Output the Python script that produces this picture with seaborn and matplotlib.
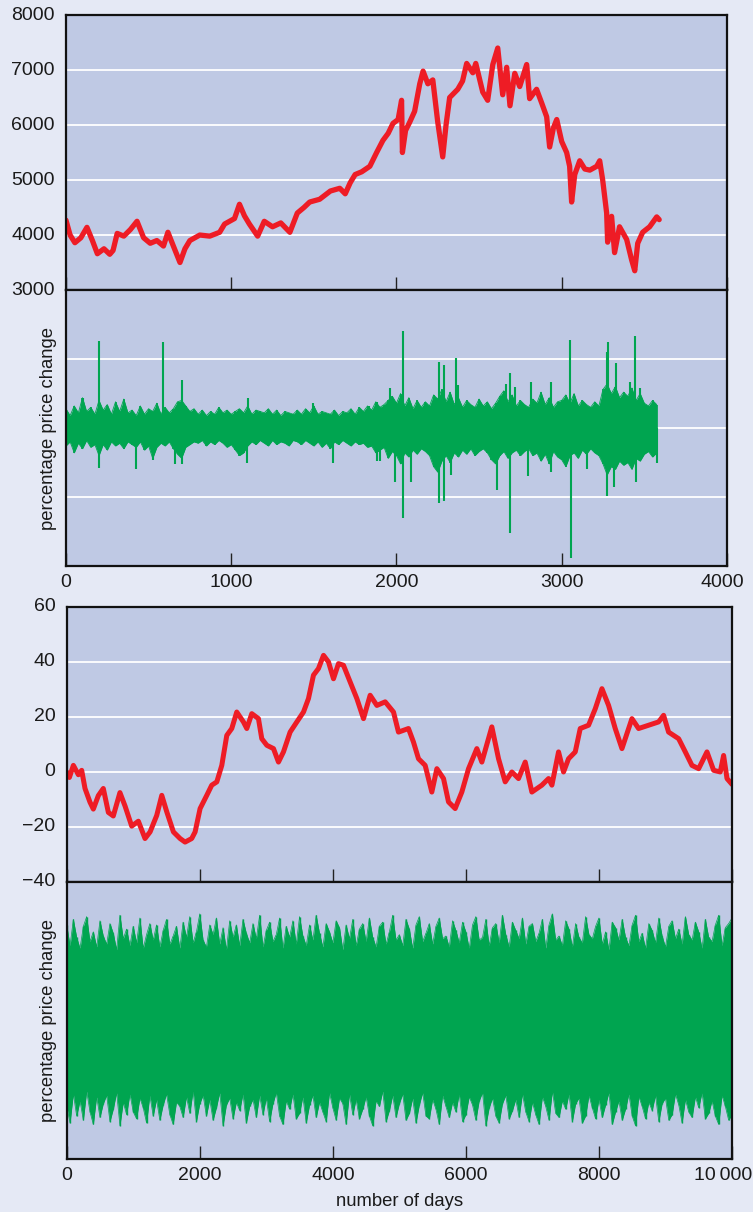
import numpy as np
import pandas as pd
import matplotlib
matplotlib.use("Agg")
import matplotlib.pyplot as plt
import seaborn as sns
from matplotlib.transforms import ScaledTranslation

# ---------------- data ----------------
# Panel 1: real price index (about 3600 trading days)
top_days = [0, 25, 54, 90, 127, 160, 190, 230, 265, 285, 310, 350, 390, 430, 470, 510, 550, 590,
            617, 650, 690, 720, 750, 810, 870, 930, 960, 1020, 1050, 1080, 1110, 1160, 1200, 1250,
            1300, 1355, 1400, 1440, 1475, 1535, 1600, 1657, 1690, 1720, 1750, 1790, 1839, 1880,
            1918, 1950, 1979, 2010, 2031, 2036, 2055, 2080, 2110, 2141, 2161, 2190, 2220, 2250,
            2280, 2300, 2322, 2371, 2400, 2425, 2462, 2480, 2522, 2552, 2583, 2613, 2643, 2667,
            2687, 2716, 2746, 2788, 2806, 2848, 2879, 2909, 2927, 2950, 2970, 3000, 3030, 3048,
            3060, 3079, 3109, 3140, 3170, 3212, 3230, 3248, 3272, 3278, 3302, 3320, 3350, 3393,
            3423, 3442, 3460, 3490, 3532, 3575, 3590]
top_price = [4270, 4000, 3860, 3950, 4140, 3900, 3660, 3750, 3650, 3720, 4030, 3980, 4100, 4250,
             3950, 3850, 3900, 3800, 4050, 3800, 3500, 3750, 3900, 4000, 3980, 4050, 4200, 4300,
             4560, 4350, 4200, 3980, 4250, 4150, 4220, 4050, 4400, 4500, 4600, 4650, 4800, 4850,
             4750, 4950, 5100, 5150, 5250, 5500, 5720, 5850, 6030, 6100, 6450, 5500, 5900, 6050,
             6250, 6750, 6980, 6750, 6820, 6050, 5420, 6000, 6500, 6650, 6800, 7120, 6950, 7120,
             6600, 6450, 7100, 7400, 6550, 7050, 6350, 6940, 6700, 7100, 6480, 6650, 6400, 6150,
             5600, 5950, 6100, 5700, 5500, 5250, 4600, 5100, 5350, 5200, 5180, 5250, 5350, 5000,
             4400, 3870, 4340, 3680, 4150, 3920, 3550, 3350, 3850, 4050, 4150, 4330, 4280]

# Panel 2: daily percentage change of that index - usual daily range (every 25 days) ...
top_band_days = list(range(0, 3600, 25))
top_band_hi = [1.4, 0.9, 1.6, 1.1, 2.2, 1.2, 1.5, 1.0,
               2.0, 1.3, 1.7, 1.0, 1.9, 1.2, 2.1, 1.1,
               1.3, 0.9, 1.6, 1.0, 1.4, 1.2, 1.8, 1.0,
               1.5, 1.1, 1.4, 1.9, 2.0, 1.6, 1.2, 1.4,
               1.0, 1.3, 0.9, 1.2, 1.0, 1.5, 1.1, 1.3,
               1.0, 1.2, 1.4, 1.1, 1.6, 1.0, 1.3, 1.2,
               1.1, 1.4, 1.0, 1.3, 0.9, 1.2, 1.1, 1.0,
               1.3, 1.0, 1.4, 1.1, 1.6, 1.0, 1.2, 1.1,
               1.0, 1.3, 0.9, 1.2, 1.1, 1.4, 1.0, 1.5,
               1.2, 1.6, 1.3, 1.9, 1.5, 1.7, 2.0, 2.3,
               1.8, 2.5, 1.6, 2.2, 1.4, 2.0, 1.5, 1.9,
               1.6, 2.4, 2.1, 2.8, 1.9, 2.6, 1.7, 2.2,
               1.5, 2.0, 1.7, 1.5, 2.1, 1.6, 1.9, 1.4,
               1.8, 2.3, 2.7, 1.9, 2.4, 1.6, 2.0, 1.7,
               1.5, 2.1, 1.8, 2.6, 1.7, 2.2, 1.5, 1.9,
               2.0, 2.4, 1.8, 2.5, 1.6, 2.0, 1.7, 1.5,
               1.9, 1.6, 2.8, 3.2, 2.5, 3.0, 2.2, 2.6,
               2.3, 2.9, 2.0, 2.5, 1.8, 1.6, 2.0, 1.7]
top_band_lo = [-1.3, -1.0, -1.8, -1.1, -1.5, -0.9, -1.4, -1.2,
               -2.0, -1.2, -1.6, -1.0, -1.3, -1.1, -1.5, -1.0,
               -1.2, -1.4, -1.0, -1.6, -1.3, -2.2, -1.4, -1.1,
               -1.3, -1.0, -1.5, -1.9, -2.2, -1.4, -1.2, -1.0,
               -1.1, -0.9, -1.3, -1.0, -1.2, -0.9, -1.1, -1.4,
               -1.2, -1.6, -2.0, -1.8, -1.3, -1.0, -1.2, -0.9,
               -1.1, -1.3, -0.9, -1.2, -1.0, -1.1, -1.3, -0.9,
               -1.0, -1.2, -0.9, -1.1, -1.3, -1.0, -1.4, -1.1,
               -1.5, -1.0, -1.2, -0.9, -1.1, -1.3, -1.0, -1.2,
               -1.1, -1.4, -1.3, -1.8, -1.6, -1.4, -2.2, -1.7,
               -2.0, -2.6, -1.8, -2.1, -1.6, -1.9, -1.5, -1.7,
               -2.0, -2.8, -3.2, -2.4, -2.0, -2.5, -1.8, -2.1,
               -1.6, -1.9, -1.5, -2.0, -1.7, -1.5, -1.8, -2.3,
               -2.6, -2.0, -1.7, -2.2, -1.8, -1.6, -2.0, -1.7,
               -1.5, -2.0, -1.8, -2.4, -1.9, -2.6, -1.7, -2.1,
               -2.3, -2.8, -2.0, -1.8, -2.2, -1.6, -1.9, -1.5,
               -1.8, -2.0, -2.6, -3.4, -2.8, -3.0, -2.4, -2.7,
               -2.5, -3.0, -2.2, -2.4, -1.9, -1.7, -2.1, -1.8]
# ... and the single large daily moves (day, % change)
top_spike_days = [101, 198, 198, 423, 526, 588, 659, 703, 703, 1095, 1102, 1496, 1614, 1835,
                  1885, 1885, 1898, 1961, 1993, 2040, 2040, 2090, 2258, 2258, 2286, 2286, 2329,
                  2359, 2373, 2611, 2661, 2686, 2686, 2720, 2797, 2815, 2938, 2938, 3050, 3054,
                  3155, 3274, 3274, 3282, 3316, 3326, 3411, 3444, 3452, 3472, 3579]
top_spike_vals = [2.2, 6.3, -2.9, -3.0, -2.3, 6.2, -2.6, 3.5, -2.6, -2.5, 2.2, 1.8, -2.5, 1.6,
                  1.9, -2.4, -2.4, 2.9, -3.9, 7.0, -6.5, -3.9, 4.8, -5.4, 4.6, -5.3, -3.4,
                  5.1, 3.1, -4.5, 3.2, 4.0, -7.6, 3.0, -3.5, 3.3, 3.3, -3.2, 6.4, -9.4,
                  -3.0, 5.5, -4.9, 6.2, -4.3, 4.7, 3.3, 6.7, -3.9, 2.9, -2.5]

# Panel 3: simulated random-walk price (10 000 days)
sim_days = [0, 40, 100, 175, 225, 275, 350, 400, 475, 550, 626, 700, 800, 877, 977, 1077, 1177,
            1253, 1353, 1429, 1504, 1604, 1704, 1779, 1879, 1930, 2005, 2105, 2180, 2256, 2331,
            2406, 2481, 2556, 2656, 2707, 2782, 2882, 2932, 3008, 3108, 3183, 3258, 3358, 3459,
            3559, 3634, 3709, 3784, 3860, 3935, 4010, 4085, 4160, 4261, 4361, 4461, 4561, 4662,
            4787, 4912, 4987, 5137, 5212, 5288, 5388, 5488, 5564, 5664, 5739, 5839, 5939, 6040,
            6165, 6240, 6390, 6491, 6591, 6691, 6791, 6892, 6992, 7142, 7243, 7293, 7393, 7468,
            7543, 7644, 7719, 7844, 7945, 8045, 8145, 8245, 8346, 8496, 8596, 8747, 8897, 8972,
            9047, 9198, 9298, 9398, 9499, 9624, 9724, 9824, 9874, 9925, 10000]
sim_price = [0, -2, 2.4, -1, 0.6, -6, -11, -13.5, -8.6, -6, -14.7, -16, -7.5, -12.4, -19.7, -17.9,
             -24.2, -21.8, -15.8, -8.5, -14.5, -21.8, -24.2, -25.5, -24.2, -21.8, -13.3, -8.5,
             -4.8, -3.6, 2.4, 13.3, 15.8, 21.8, 18.2, 15.8, 21.2, 19.4, 12.1, 9.7, 8.5, 3.6, 7.3,
             14.5, 18.2, 21.8, 26.7, 35.2, 37.6, 42.4, 40, 33.9, 39.4, 38.8, 32.7, 26.7, 19.4,
             27.9, 24.2, 25.5, 21.8, 14.5, 15.8, 10.9, 4.8, 2.4, -7.3, 1.2, -2.4, -10.9, -13.3,
             -7.3, 1.2, 8.5, 3.6, 16.4, 4.8, -3.6, 0, -2.4, 3.6, -7.3, -4.8, -2.4, -4.8, 7.3, 0,
             4.8, 7.3, 15.8, 17, 23, 30.3, 24.2, 15.8, 8.5, 19.4, 15.8, 17, 18.2, 20.6, 14.5,
             12.1, 7.3, 2.4, 1.2, 7.3, 0.6, 0, 6, -2.4, -4.5]

# Panel 4: daily percentage change of the simulated walk, daily range every 50 days
sim_band_days = list(range(0, 10001, 50))
sim_band_hi = [6.9, 5.4, 7.3, 6.0, 5.2, 6.8, 7.5, 5.7, 6.4, 5.3,
               7.2, 6.1, 5.5, 7.0, 6.3, 5.1, 7.6, 5.9, 6.6, 5.4,
               6.8, 5.6, 7.4, 5.2, 6.2, 7.0, 5.8, 6.9, 5.3, 6.5,
               7.3, 5.5, 6.1, 6.8, 5.2, 7.1, 6.0, 7.5, 5.6, 6.4,
               7.7, 5.8, 5.3, 6.9, 6.2, 7.4, 5.5, 6.7, 5.1, 7.2,
               6.0, 6.9, 5.4, 7.3, 6.3, 5.6, 7.0, 5.9, 7.6, 5.3,
               6.5, 7.1, 5.7, 6.2, 7.4, 5.2, 6.8, 6.0, 7.2, 5.5,
               7.5, 6.1, 5.4, 6.9, 5.8, 7.6, 6.3, 5.3, 7.0, 6.4,
               5.6, 7.2, 6.7, 5.1, 6.9, 5.9, 7.3, 5.4, 6.6, 7.0,
               5.7, 7.4, 6.0, 5.3, 6.8, 7.1, 5.5, 6.4, 7.6, 5.8,
               6.2, 5.4, 7.3, 6.6, 5.2, 6.9, 7.5, 5.7, 6.3, 7.0,
               5.5, 6.8, 7.4, 5.9, 6.1, 5.3, 7.2, 6.5, 5.6, 7.1,
               6.4, 5.2, 6.9, 7.5, 5.8, 6.0, 7.3, 5.4, 6.7, 7.0,
               5.6, 7.6, 6.2, 5.3, 7.1, 6.5, 5.9, 7.4, 5.5, 6.8,
               7.0, 5.7, 6.3, 7.3, 5.2, 6.9, 7.7, 5.8, 6.1, 5.4,
               7.2, 6.6, 5.3, 7.0, 6.0, 5.6, 7.5, 6.2, 5.9, 6.8,
               7.4, 5.5, 6.4, 5.1, 7.1, 6.7, 5.8, 7.3, 6.0, 5.4,
               6.9, 7.6, 5.7, 6.3, 5.2, 7.0, 6.5, 5.6, 7.4, 6.1,
               5.3, 6.8, 7.2, 5.9, 6.6, 5.5, 7.5, 6.2, 5.8, 7.1,
               6.4, 5.2, 7.3, 6.0, 5.7, 6.9, 7.6, 5.4, 6.7, 7.0,
               7.4]
sim_band_lo = [-6.2, -7.4, -5.3, -6.9, -5.8, -7.2, -5.1, -6.6, -7.5, -5.5,
               -7.0, -6.0, -5.4, -7.3, -6.4, -5.2, -7.6, -5.9, -6.8, -5.3,
               -6.6, -7.1, -5.6, -6.3, -7.4, -5.4, -6.9, -5.7, -7.2, -6.1,
               -5.3, -6.8, -7.5, -5.9, -6.2, -7.0, -5.5, -6.7, -5.1, -7.3,
               -6.0, -5.4, -6.9, -5.7, -7.2, -6.3, -5.2, -7.6, -6.1, -5.6,
               -7.1, -5.9, -6.5, -5.3, -7.4, -6.2, -5.7, -7.0, -5.4, -6.8,
               -5.6, -7.3, -6.0, -5.2, -6.9, -7.5, -5.8, -6.4, -5.3, -7.1,
               -6.7, -5.5, -7.4, -6.1, -5.4, -7.0, -5.9, -6.6, -7.3, -5.2,
               -6.3, -7.2, -5.6, -6.0, -7.5, -5.3, -6.8, -5.7, -7.1, -6.4,
               -5.5, -6.9, -7.6, -5.8, -6.2, -5.1, -7.3, -6.5, -5.4, -7.0,
               -6.0, -5.3, -7.2, -6.7, -5.6, -7.4, -6.1, -5.2, -6.9, -7.1,
               -5.7, -6.4, -7.5, -5.4, -6.2, -7.0, -5.9, -6.6, -5.3, -7.3,
               -6.8, -5.5, -6.1, -7.2, -5.8, -5.2, -7.6, -6.3, -5.6, -6.9,
               -7.4, -6.0, -5.4, -7.1, -6.5, -5.7, -7.0, -5.3, -6.6, -7.3,
               -5.9, -6.8, -7.5, -5.5, -6.2, -7.2, -5.1, -6.7, -7.0, -5.8,
               -6.4, -5.3, -7.3, -6.0, -5.6, -7.4, -6.9, -5.4, -6.3, -7.1,
               -5.7, -7.0, -6.1, -5.2, -7.5, -6.6, -5.8, -7.2, -6.4, -5.3,
               -6.9, -7.6, -5.5, -6.2, -7.1, -5.9, -6.5, -5.4, -7.3, -6.0,
               -5.6, -7.2, -6.8, -5.3, -6.1, -7.4, -5.7, -6.6, -7.0, -5.5,
               -6.3, -5.2, -7.1, -6.7, -5.8, -6.9, -7.5, -5.4, -6.2, -7.2,
               -6.8]

top_yticks = [3000, 4000, 5000, 6000, 7000, 8000]
top_xticks = [0, 1000, 2000, 3000, 4000]
sim_yticks = [-40, -20, 0, 20, 40, 60]
sim_xticks = [0, 2000, 4000, 6000, 8000, 10000]
sim_xticklabels = ["0", "2000", "4000", "6000", "8000", "10\u2009000"]
ylabel_text = "percentage price change"
xlabel_text = "number of days"

# ---------------- style ----------------
FIG_BG = "#e5e9f5"
AX_BG = "#bfc9e4"
RED = "#ee1c25"
GREEN = "#00a550"

sns.set_style("white")
plt.rcParams["font.family"] = ["Liberation Sans", "DejaVu Sans"]
plt.rcParams["axes.unicode_minus"] = True

fig = plt.figure(figsize=(7.53, 12.12), dpi=100, facecolor=FIG_BG)
ax1 = fig.add_axes([0.0876, 0.7607, 0.8778, 0.2269])
ax2 = fig.add_axes([0.0876, 0.5330, 0.8778, 0.2277])
ax3 = fig.add_axes([0.0886, 0.2723, 0.8835, 0.2269])
ax4 = fig.add_axes([0.0886, 0.0437, 0.8835, 0.2286])

for ax in (ax1, ax2, ax3, ax4):
    ax.set_facecolor(AX_BG)
    for s in ax.spines.values():
        s.set_color("#111111")
        s.set_linewidth(1.6)
    ax.tick_params(axis="x", bottom=True, direction="in", length=9.5, width=1.0,
                   color="#222222", labelsize=14, pad=6, labelcolor="#1a1a1a")
    ax.tick_params(axis="y", left=False, length=0, labelsize=14, pad=8, labelcolor="#1a1a1a")
    ax.set_axisbelow(True)

# panel 1 : real price
sns.lineplot(x=top_days, y=top_price, ax=ax1, color=RED, lw=3.8, estimator=None, sort=False)
ax1.set_xlim(0, 4000)
ax1.set_ylim(3000, 8000)
ax1.set_yticks(top_yticks)
ax1.set_yticklabels([str(v) for v in top_yticks], va="center")
ax1.set_xticks(top_xticks)
ax1.set_xticklabels([])
ax1.grid(axis="y", color="white", lw=1.3)
ax1.set_xlabel("")
ax1.set_ylabel("")

# panel 2 : daily % change of real price
ax2.fill_between(top_band_days, top_band_lo, top_band_hi, color=GREEN, lw=0, zorder=2)
ax2.vlines(top_band_days, top_band_lo, top_band_hi, color=GREEN, lw=1.2, zorder=2)
ax2.vlines(top_spike_days, 0, top_spike_vals, color=GREEN, lw=1.5, zorder=3)
sns.lineplot(x=top_band_days, y=top_band_hi, ax=ax2, color=GREEN, lw=0.6, estimator=None)
sns.lineplot(x=top_band_days, y=top_band_lo, ax=ax2, color=GREEN, lw=0.6, estimator=None)
ax2.set_xlim(0, 4000)
ax2.set_ylim(-10, 10)
ax2.set_yticks([-5, 0, 5])
ax2.set_yticklabels([])
ax2.grid(axis="y", color="white", lw=1.3)
ax2.set_xticks(top_xticks)
ax2.set_xticklabels([str(v) for v in top_xticks])
ax2.set_xlabel("")
ax2.set_ylabel(ylabel_text, fontsize=13.3, color="#1a1a1a")
ax2.yaxis.set_label_coords(-0.014, 0.5)

# panel 3 : simulated walk
sns.lineplot(x=sim_days, y=sim_price, ax=ax3, color=RED, lw=3.6, estimator=None, sort=False)
ax3.set_xlim(0, 10000)
ax3.set_ylim(-40, 60)
ax3.set_yticks(sim_yticks)
ax3.set_yticklabels([str(v).replace("-", "\u2212") for v in sim_yticks], va="center")
ax3.set_xticks(sim_xticks)
ax3.set_xticklabels([])
ax3.grid(axis="y", color="white", lw=1.3)
ax3.set_xlabel("")
ax3.set_ylabel("")

# panel 4 : simulated daily % change
ax4.fill_between(sim_band_days, sim_band_lo, sim_band_hi, color=GREEN, lw=0, zorder=2)
ax4.vlines(sim_band_days, sim_band_lo, sim_band_hi, color=GREEN, lw=1.0, zorder=2)
sns.lineplot(x=sim_band_days, y=sim_band_hi, ax=ax4, color=GREEN, lw=0.5, estimator=None)
sns.lineplot(x=sim_band_days, y=sim_band_lo, ax=ax4, color=GREEN, lw=0.5, estimator=None)
ax4.set_xlim(0, 10000)
ax4.set_ylim(-10, 10)
ax4.set_yticks([])
ax4.set_xticks(sim_xticks)
ax4.set_xticklabels(sim_xticklabels)
ax4.set_ylabel(ylabel_text, fontsize=13.3, color="#1a1a1a")
ax4.yaxis.set_label_coords(-0.014, 0.5)
ax4.set_xlabel(xlabel_text, fontsize=13.3, color="#1a1a1a")
ax4.xaxis.set_label_coords(0.5, -0.122)

# nudge the right-most x labels inward like the reference
lab = ax2.get_xticklabels()[-1]
lab.set_transform(lab.get_transform() + ScaledTranslation(-0.05, 0, fig.dpi_scale_trans))
lab = ax4.get_xticklabels()[-1]
lab.set_transform(lab.get_transform() + ScaledTranslation(-0.09, 0, fig.dpi_scale_trans))

fig.savefig("out.png", dpi=100, facecolor=FIG_BG)
